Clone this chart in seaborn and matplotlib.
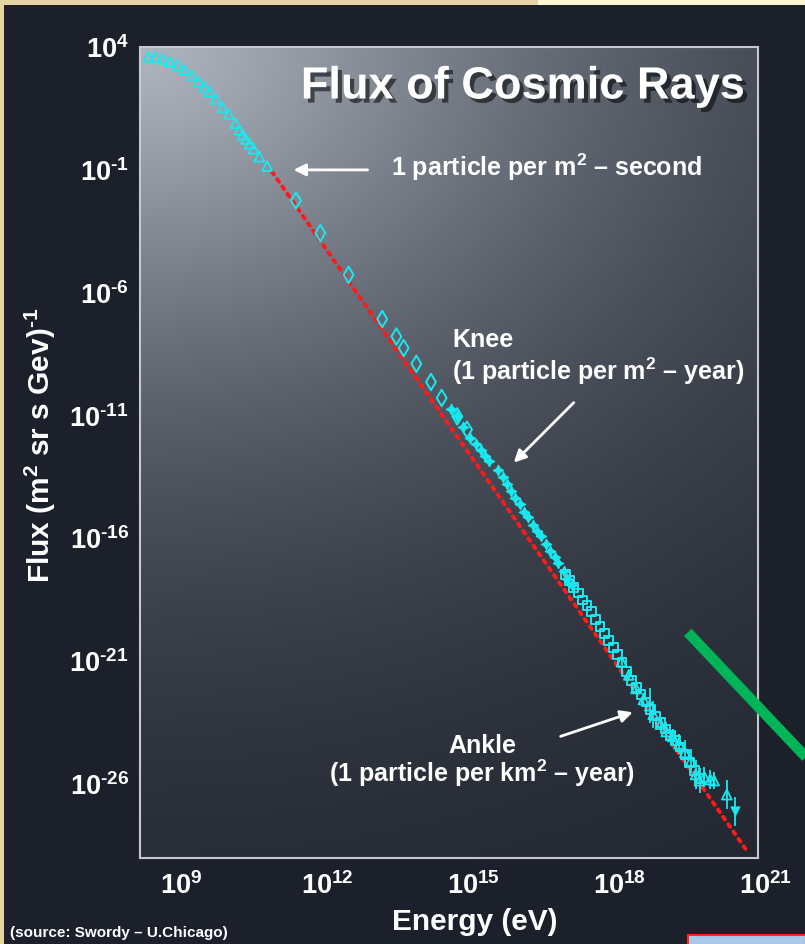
import numpy as np
import matplotlib
matplotlib.use("Agg")
import matplotlib.pyplot as plt
import matplotlib.colors as mcolors
import matplotlib.patheffects as pe
import matplotlib.transforms as mtransforms
from matplotlib.patches import Rectangle
from matplotlib.ticker import LogLocator, FuncFormatter, NullFormatter
import seaborn as sns

# ---- values (log10 energy in eV, log10 flux) ----
# low energy, open triangles
low_logE = [8.49, 8.63, 8.79, 8.94, 9.09, 9.23, 9.38, 9.53, 9.64, 9.75, 9.88,
            10.01, 10.14, 10.28, 10.36, 10.43, 10.49, 10.57, 10.65, 10.77, 10.93]
low_logF = [3.61, 3.61, 3.52, 3.40, 3.27, 3.07, 2.86, 2.59, 2.39, 2.18, 1.89,
            1.55, 1.27, 0.90, 0.63, 0.43, 0.26, 0.06, -0.14, -0.46, -0.84]

# direct measurements, open diamonds
mid_logE = [11.52, 12.02, 12.60, 13.29, 13.58, 13.73, 13.99, 14.29, 14.51, 14.83, 15.03]
mid_logF = [-2.25, -3.57, -5.27, -7.07, -7.78, -8.25, -8.89, -9.63, -10.28, -11.03, -11.57]

# knee region, filled stars
knee_logE = [14.71, 14.83, 14.95, 15.10, 15.21, 15.31, 15.39, 15.49, 15.66, 15.77,
             15.84, 15.93, 16.01, 16.11, 16.20, 16.28, 16.38, 16.46, 16.54, 16.64,
             16.73, 16.83, 16.90, 17.01, 17.09, 17.19]
knee_logF = [-10.73, -11.03, -11.48, -11.91, -12.15, -12.41, -12.63, -12.83, -13.22, -13.49,
             -13.80, -14.08, -14.35, -14.59, -14.93, -15.12, -15.47, -15.70, -15.91, -16.24,
             -16.52, -16.74, -16.99, -17.33, -17.64, -17.91]

# above the knee, open squares
high_logE = [17.05, 17.14, 17.22, 17.31, 17.40, 17.49, 17.58, 17.67, 17.76, 17.85,
             17.94, 18.03, 18.12, 18.21, 18.30, 18.40, 18.50, 18.60, 18.70, 18.80,
             18.90, 19.00, 19.10, 19.20, 19.30, 19.40, 19.50, 19.60, 19.70, 19.80]
high_logF = [-17.45, -17.72, -17.98, -18.22, -18.50, -18.74, -18.98, -19.28, -19.58, -19.88,
             -20.15, -20.45, -20.72, -21.05, -21.40, -21.78, -22.05, -22.35, -22.65, -22.95,
             -23.22, -23.50, -23.75, -24.00, -24.22, -24.48, -24.80, -25.10, -25.45, -25.75]

# ankle region, open triangles with error bars (decades)
ankle_logE = [18.20, 18.35, 18.50, 18.65, 18.78, 18.85, 19.00, 19.12, 19.25, 19.38,
              19.50, 19.62, 19.72, 19.80, 19.90, 20.02, 20.10, 20.36]
ankle_logF = [-21.00, -21.55, -22.10, -22.55, -22.80, -23.15, -23.55, -23.85, -24.05, -24.35,
              -24.70, -25.05, -25.60, -25.85, -25.70, -25.80, -25.85, -26.42]
ankle_err = [0.15, 0.15, 0.20, 0.25, 0.70, 0.55, 0.30, 0.40, 0.30, 0.40,
             0.50, 0.50, 0.60, 0.50, 0.40, 0.40, 0.35, 0.60]

# highest energy point, filled down triangle
top_logE = [20.53]
top_logF = [-27.10]
top_err = [0.60]

# power law guide (red dotted)
fit_logE = [11.03, 20.79]
fit_logF = [-1.08, -28.76]

# green slide marker line
green_logE = [19.56, 22.70]
green_logF = [-19.82, -26.40]

NAVY = "#1b202b"
CYAN = "#1ae8ef"
RED = "#ff1a1a"
GREEN = "#00b457"
SPINE = "#c5c9cf"


def p10(v):
    return 10.0 ** np.asarray(v, dtype=float)


sns.set_theme(style="dark")
plt.rcParams["font.family"] = ["Liberation Sans", "DejaVu Sans"]
plt.rcParams["font.weight"] = "bold"
plt.rcParams["mathtext.fontset"] = "custom"
for k in ("rm", "it", "bf", "sf"):
    plt.rcParams["mathtext." + k] = "Liberation Sans:bold"

fig = plt.figure(figsize=(8.05, 9.44), dpi=100, facecolor=NAVY)
pos = [140 / 805, 1 - 858 / 944, 618 / 805, 811 / 944]

# gradient panel behind the plot
bg = fig.add_axes(pos, zorder=0)
ny, nx = 400, 300
yy, xx = np.mgrid[0:1:ny * 1j, 0:1:nx * 1j]
d = np.hypot(xx * 618 / 1.3, yy * 811)
f = np.exp(-(d / 420) ** 1.35)
light = np.array(mcolors.to_rgb("#adb4be"))
dark = np.array(mcolors.to_rgb(NAVY))
bg.imshow(dark + (light - dark) * f[..., None], aspect="auto", interpolation="bilinear")
bg.axis("off")

ax = fig.add_axes(pos, zorder=1)
ax.set_facecolor("none")
ax.set_xscale("log")
ax.set_yscale("log")

sns.lineplot(x=p10(fit_logE), y=p10(fit_logF), ax=ax, color=RED, lw=2.8,
             linestyle=(0, (0.8, 1.5)), dash_capstyle="round", legend=False, zorder=2)

sns.scatterplot(x=p10(low_logE), y=p10(low_logF), ax=ax, marker="^", s=50,
                facecolor="none", edgecolor=CYAN, linewidth=1.3, zorder=3)
sns.scatterplot(x=p10(mid_logE), y=p10(mid_logF), ax=ax, marker="d", s=70,
                facecolor="none", edgecolor=CYAN, linewidth=1.4, zorder=3)
sns.scatterplot(x=p10(knee_logE), y=p10(knee_logF), ax=ax, marker=(4, 1, 0), s=58,
                color=CYAN, edgecolor=CYAN, linewidth=0.8, zorder=3)
sns.scatterplot(x=p10(high_logE), y=p10(high_logF), ax=ax, marker="s", s=40,
                facecolor="none", edgecolor=CYAN, linewidth=1.4, zorder=3)

aE, aF, aErr = p10(ankle_logE), p10(ankle_logF), np.asarray(ankle_err)
ax.errorbar(aE, aF, yerr=[aF - aF / 10 ** aErr, aF * 10 ** aErr - aF], fmt="none",
            ecolor=CYAN, elinewidth=1.3, capsize=0, zorder=3)
sns.scatterplot(x=aE, y=aF, ax=ax, marker="^", s=50,
                facecolor="none", edgecolor=CYAN, linewidth=1.3, zorder=3)

tE, tF, tErr = p10(top_logE), p10(top_logF), np.asarray(top_err)
ax.errorbar(tE, tF, yerr=[tF - tF / 10 ** tErr, tF * 10 ** tErr - tF], fmt="none",
            ecolor=CYAN, elinewidth=1.3, capsize=0, zorder=3)
sns.scatterplot(x=tE, y=tF, ax=ax, marker="v", s=45, color=CYAN, edgecolor=CYAN, zorder=3)

sns.lineplot(x=p10(green_logE), y=p10(green_logF), ax=ax, color=GREEN, lw=7.5,
             solid_capstyle="butt", clip_on=False, legend=False, zorder=4)

ax.set_xlim(10 ** 8.32, 1e21)
ax.set_ylim(1e-29, 1e4)

# ticks
ax.xaxis.set_major_locator(LogLocator(base=10, subs=(1.0,), numticks=100))
ax.xaxis.set_minor_locator(LogLocator(base=10, subs=np.arange(2, 10), numticks=100))
ax.yaxis.set_major_locator(LogLocator(base=10, subs=(1.0,), numticks=100))
ax.yaxis.set_minor_locator(LogLocator(base=10, subs=(5.0,), numticks=100))


def sup(e):
    # plain hyphen in the exponent, like the original slide
    txt = str(e).replace("-", r"\text{-}")
    return f"$10^{{{txt}}}$"


def xfmt(v, pos):
    e = int(round(np.log10(v)))
    return sup(e) if e % 3 == 0 else ""


def yfmt(v, pos):
    e = int(round(np.log10(v)))
    return sup(e) if (e - 4) % 5 == 0 else ""


ax.xaxis.set_major_formatter(FuncFormatter(xfmt))
ax.yaxis.set_major_formatter(FuncFormatter(yfmt))
ax.xaxis.set_minor_formatter(NullFormatter())
ax.yaxis.set_minor_formatter(NullFormatter())
ax.tick_params(which="both", direction="in", color=SPINE, labelcolor="white",
               labelsize=19.5, width=1)
ax.tick_params(axis="x", which="major", length=8, pad=10)
ax.tick_params(axis="x", which="minor", length=4)
ax.tick_params(axis="y", which="major", length=5, pad=8)
ax.tick_params(axis="y", which="minor", length=4)
for s in ax.spines.values():
    s.set_color(SPINE)
    s.set_linewidth(1.5)
    s.set_visible(True)

# the slide's x labels sit a little right of their ticks
shift = mtransforms.ScaledTranslation(8 / 100, 0, fig.dpi_scale_trans)
for lab in ax.get_xticklabels():
    lab.set_transform(lab.get_transform() + shift)

ax.set_xlabel("Energy (eV)", fontsize=21.5, color="white", fontweight="bold", va="baseline")
ax.xaxis.set_label_coords((475 - 140) / 618, -(930 - 858) / 811)
ax.set_ylabel(r"Flux (m$^2$ sr s Gev)$^{\text{-}1}$", fontsize=21.5, color="white",
              fontweight="bold", va="baseline")
ax.yaxis.set_label_coords((50 - 140) / 618, (858 - 445) / 811)

# title with shadow
ax.text(0.619, (858 - 98.5) / 811, "Flux of Cosmic Rays", transform=ax.transAxes,
        ha="center", va="baseline", fontsize=32.5, color="white", fontweight="bold",
        path_effects=[pe.withSimplePatchShadow(offset=(3, -3), shadow_rgbFace="black", alpha=0.55)],
        zorder=5)

# annotations
arrow = dict(arrowstyle="-|>", color="white", lw=2, mutation_scale=18, shrinkA=0, shrinkB=0)
ax.annotate("", xy=(10 ** 11.47, 10 ** -1.0), xytext=(10 ** 12.99, 10 ** -1.0), arrowprops=arrow)
ax.text(10 ** 13.46, 10 ** -1.244, "1 particle per m$^2$ – second", ha="left", va="baseline",
        fontsize=18, color="white", fontweight="bold")

ax.annotate("", xy=(10 ** 15.99, 10 ** -12.91), xytext=(10 ** 17.22, 10 ** -10.47), arrowprops=arrow)
ax.text(10 ** 14.73, 10 ** -8.20, "Knee", ha="left", va="baseline",
        fontsize=18, color="white", fontweight="bold")
ax.text(10 ** 14.73, 10 ** -9.54, "(1 particle per m$^2$ – year)", ha="left", va="baseline",
        fontsize=18, color="white", fontweight="bold")

ax.annotate("", xy=(10 ** 18.43, 10 ** -23.07), xytext=(10 ** 16.95, 10 ** -24.05), arrowprops=arrow)
ax.text(10 ** 15.34, 10 ** -24.74, "Ankle", ha="center", va="baseline",
        fontsize=18, color="white", fontweight="bold")
ax.text(10 ** 15.34, 10 ** -25.92, "(1 particle per km$^2$ – year)", ha="center", va="baseline",
        fontsize=18, color="white", fontweight="bold")

fig.text(10 / 805, (944 - 937) / 944, "(source: Swordy – U.Chicago)", ha="left", va="baseline",
         fontsize=11, color="white", fontweight="bold")

# slide decorations around the picture
fig.patches.append(Rectangle((0, 0), 4 / 805, 1, transform=fig.transFigure,
                             facecolor="#e6d3a6", edgecolor="none", zorder=10))
fig.patches.append(Rectangle((0, 1 - 5 / 944), 538 / 805, 5 / 944, transform=fig.transFigure,
                             facecolor="#e6d3a6", edgecolor="none", zorder=10))
fig.patches.append(Rectangle((538 / 805, 1 - 5 / 944), 267 / 805, 5 / 944, transform=fig.transFigure,
                             facecolor="#fdf6d2", edgecolor="none", zorder=10))
fig.patches.append(Rectangle((688 / 805, -0.01), 118 / 805, 0.01 + 9 / 944, transform=fig.transFigure,
                             facecolor="#a9c8ec", edgecolor="#ff2a10", linewidth=1.5, zorder=10))

fig.savefig("out.png", dpi=100, facecolor=NAVY)
